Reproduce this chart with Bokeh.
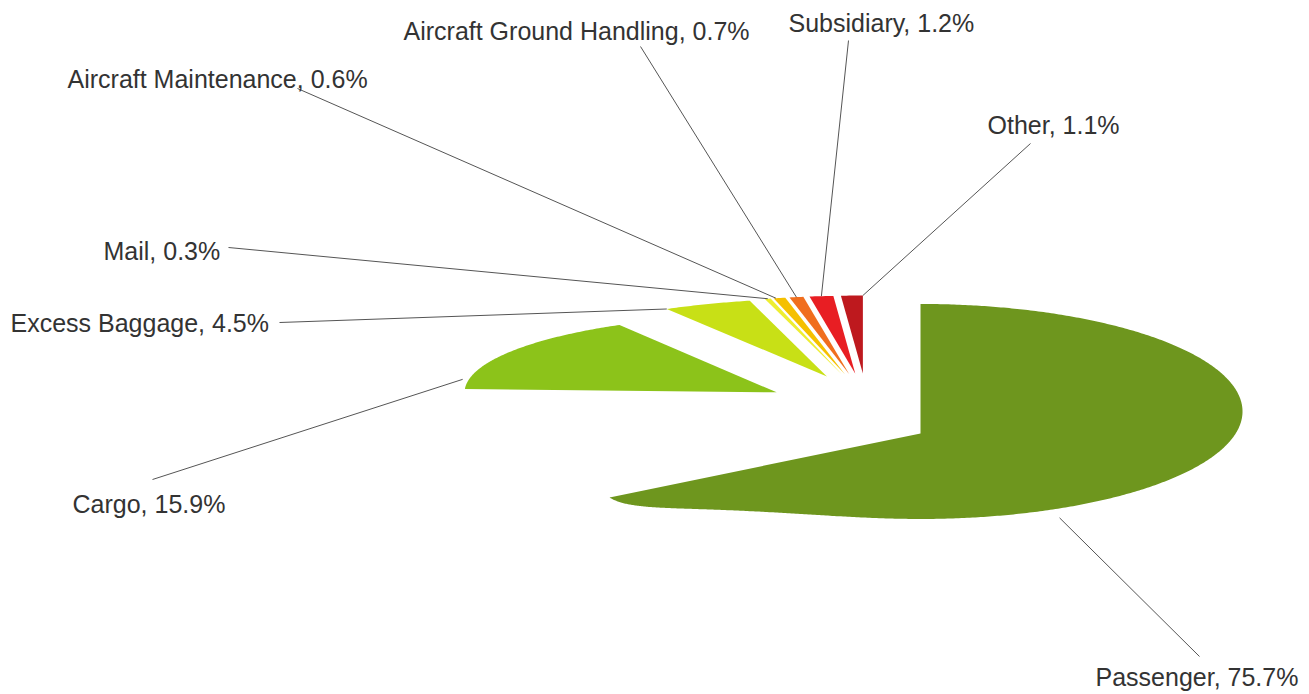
import math
from bokeh.plotting import figure
from bokeh.models import ColumnDataSource, Range1d
from bokeh.core.properties import value
from bokeh.embed import file_html
from bokeh.resources import INLINE

# ---------------- data ----------------
categories = ["Passenger", "Cargo", "Excess Baggage", "Mail",
              "Aircraft Maintenance", "Aircraft Ground Handling",
              "Subsidiary", "Other"]
shares = [75.7, 15.9, 4.5, 0.3, 0.6, 0.7, 1.2, 1.1]

# ---------------- style / layout ----------------
colors = ["#6e961e", "#8cc31a", "#c8e016", "#eeee30",
          "#f5c000", "#f06e1e", "#e81e23", "#be191e"]
W, H = 1309, 694
pie_center = (866.0, 412.0)
explode_scale = (105.0, 39.0)          # projected explode unit (x, y)
explode = [0.744, 1, 1, 1, 1, 1, 1, 1]
radius_x = [322, 312, 318, 318, 318, 318, 318, 318]
radius_y = [107.5, 78, 78, 78, 78, 78, 78, 78]
shear = [65, 0, 0, 0, 0, 0, 0, 0]      # perspective sag of the left-front rim
rear_warp = [0.81, 1, 1, 1, 1, 1, 1, 1]  # perspective compression past 180 deg
hub_shift_y = [-22, 0, 0, 0, 0, 0, 0, 0]
label_pos = [(1095, 676), (72, 503), (10, 322), (103, 250),
             (67, 78), (403, 30), (788, 22), (987, 124)]
leader_start = [(1199, 656), (152, 479), (279, 322), (228, 247),
                (297, 88), (640, 46), (848, 40), (1030, 143)]
leader_frac = [0.574, 0.12, 0.0, 0.5, 0.2, 0.5, 0.5, 1.0]
leader_rf = [1.08, 1.02, 1.0, 1.0, 1.0, 1.0, 1.0, 1.0]

total = sum(shares)
starts, ends = [], []
acc = 0.0
for s in shares:
    starts.append(acc / total * 360.0)
    acc += s
    ends.append(acc / total * 360.0)


def apex(i):
    m = math.radians((starts[i] + ends[i]) / 2.0)
    return (pie_center[0] + explode[i] * explode_scale[0] * math.sin(m),
            pie_center[1] - explode[i] * explode_scale[1] * math.cos(m))


def rim(i, th_deg, rf=1.0):
    ax, ay = apex(i)
    if th_deg > 180 and rear_warp[i] != 1:
        th_deg = 180 + (th_deg - 180) * rear_warp[i]
    t = math.radians(th_deg)
    s, c = math.sin(t), math.cos(t)
    x = ax + rf * radius_x[i] * s
    y = ay + hub_shift_y[i] - rf * radius_y[i] * c + shear[i] * max(0.0, -s) ** 3.2
    return x, y


xs, ys = [], []
for i in range(len(shares)):
    ax, ay = apex(i)
    px, py = [ax], [ay]
    span = ends[i] - starts[i]
    n = max(3, int(span / 0.5) + 2)
    for k in range(n):
        th = starts[i] + span * k / (n - 1)
        x, y = rim(i, th)
        px.append(x)
        py.append(y)
    xs.append(px)
    ys.append(py)

p = figure(width=W, height=H, x_range=Range1d(0, W), y_range=Range1d(H, 0),
           output_backend="svg", toolbar_location=None, min_border=0)
p.axis.visible = False
p.grid.visible = False
p.outline_line_color = None
p.background_fill_color = "white"

p.patches(xs="xs", ys="ys", fill_color="color", line_color=None,
          source=ColumnDataSource(dict(xs=xs, ys=ys, color=colors)))

# leader lines
x0, y0, x1, y1 = [], [], [], []
for i in range(len(shares)):
    th = starts[i] + leader_frac[i] * (ends[i] - starts[i])
    ex, ey = rim(i, th, leader_rf[i])
    x0.append(leader_start[i][0])
    y0.append(leader_start[i][1])
    x1.append(ex)
    y1.append(ey)
p.segment(x0=x0, y0=y0, x1=x1, y1=y1, line_color="#555555", line_width=1)

labels = [f"{c}, {v:.1f}%" for c, v in zip(categories, shares)]
p.text(x=[q[0] for q in label_pos], y=[q[1] for q in label_pos], text=labels,
       text_font=value("Liberation Sans"), text_font_size="25px",
       text_color="#333333", text_align="left", text_baseline="middle")

open("out.html", "w").write(file_html(p, INLINE))
